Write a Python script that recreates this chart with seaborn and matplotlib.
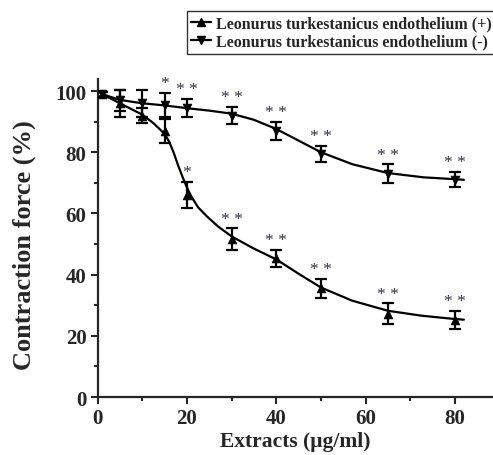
import numpy as np
import pandas as pd
import matplotlib
matplotlib.use('agg')
import matplotlib.pyplot as plt
import seaborn as sns

# concentrations and measured means / errors
conc = [1, 5, 10, 15, 20, 30, 40, 50, 65, 80]
endo_pos = [99, 96, 92, 87, 66, 51.6, 45.3, 35.5, 27.3, 25.3]
endo_pos_err = [0.8, 4.5, 2.5, 4.0, 4.3, 3.5, 2.8, 3.2, 3.3, 2.9]
endo_neg = [99, 97, 96, 95.4, 94.4, 92, 87, 79.5, 73, 71]
endo_neg_err = [0.8, 3.5, 4.5, 4.0, 3.0, 2.7, 2.9, 2.7, 3.0, 2.5]

# significance marks above each point ('' = none)
sig_pos = ['', '', '', '', '*', '* *', '* *', '* *', '* *', '* *']
sig_neg = ['', '', '', '*', '* *', '* *', '* *', '* *', '* *', '* *']

# fitted curves
curve_pos_x = [1, 5, 10, 12.5, 15, 16, 17, 18, 19, 20, 21, 22.5, 24.5, 27, 30, 35, 40, 45, 50, 57, 65, 72.5, 80, 82]
curve_pos_y = [99, 96, 92.3, 89.5, 86, 83.5, 80, 75.8, 72, 68.5, 65.5, 62, 59, 55.7, 52.5, 48.5, 45, 40.3, 35.8, 31.5, 28.2, 26.6, 25.5, 25.3]
curve_neg_x = [1, 5, 10, 15, 20, 25, 30, 35, 40, 45, 50, 57, 65, 73, 80, 82]
curve_neg_y = [99, 97.1, 96, 95.3, 94.4, 93.6, 92.6, 90.6, 87.6, 83.8, 80, 76.1, 73.2, 71.8, 71.2, 71.0]

labels = ['Leonurus turkestanicus endothelium (+)', 'Leonurus turkestanicus endothelium (-)']

sns.set_style('ticks')
plt.rcParams['font.family'] = ['Liberation Serif', 'DejaVu Serif']
plt.rcParams['font.weight'] = 'bold'

fig = plt.figure(figsize=(4.93, 4.56), dpi=100)
ax = fig.add_axes([0.198, 0.127, 0.800, 0.698])

df_pos = pd.DataFrame({'x': curve_pos_x, 'y': curve_pos_y})
df_neg = pd.DataFrame({'x': curve_neg_x, 'y': curve_neg_y})
sns.lineplot(data=df_pos, x='x', y='y', ax=ax, color='black', linewidth=1.6)
sns.lineplot(data=df_neg, x='x', y='y', ax=ax, color='black', linewidth=1.6)

for mean, err, mk in [(endo_pos, endo_pos_err, '^'), (endo_neg, endo_neg_err, 'v')]:
    ax.errorbar(conc, mean, yerr=err, fmt='none', ecolor='black',
                elinewidth=1.6, capsize=4.5, capthick=1.6, zorder=3)
    sns.scatterplot(x=conc, y=mean, marker=mk, color='black', s=40,
                    edgecolor='black', ax=ax, zorder=4)

for mean, err, sig in [(endo_pos, endo_pos_err, sig_pos), (endo_neg, endo_neg_err, sig_neg)]:
    for x, m, e, s in zip(conc, mean, err, sig):
        if s:
            ax.text(x, m + e + 0.6, s, ha='center', va='bottom', fontsize=12.5,
                    color='#333344', fontweight='normal')

# legend handles
h1, = ax.plot([], [], color='black', marker='^', markersize=6, linewidth=1.6)
h2, = ax.plot([], [], color='black', marker='v', markersize=6, linewidth=1.6)
leg = fig.legend([h1, h2], labels, loc='upper right', bbox_to_anchor=(1.006, 0.973),
                 borderaxespad=0, frameon=True, fancybox=False, edgecolor='black',
                 handlelength=1.3, handletextpad=0.3, borderpad=0.25, labelspacing=0.15,
                 prop={'family': 'Liberation Serif', 'weight': 'bold', 'size': 11.5})
leg.get_frame().set_linewidth(1.0)

ax.set_xlim(0, 88.3)
ax.set_ylim(0, 104)
ax.set_xticks([0, 20, 40, 60, 80])
ax.set_xticks([10, 30, 50, 70], minor=True)
ax.set_yticks([0, 20, 40, 60, 80, 100])
ax.set_yticks([10, 30, 50, 70, 90], minor=True)
ax.tick_params(which='major', length=5, width=1.5, labelsize=15, direction='out', pad=3)
ax.tick_params(which='minor', length=3, width=1.5, direction='out')
for lab in ax.get_xticklabels() + ax.get_yticklabels():
    lab.set_fontweight('bold')
for side in ['top', 'right']:
    ax.spines[side].set_visible(False)
for side in ['left', 'bottom']:
    ax.spines[side].set_linewidth(1.6)

ax.set_xlabel('Extracts (\u03bcg/ml)', fontsize=15.5, fontweight='bold')
ax.set_ylabel('Contraction force (%)', fontsize=19, fontweight='bold')
ax.xaxis.set_label_coords(0.5, -0.105)
ax.yaxis.set_label_coords(-0.155, 0.48)

fig.savefig('out.png', dpi=100)
